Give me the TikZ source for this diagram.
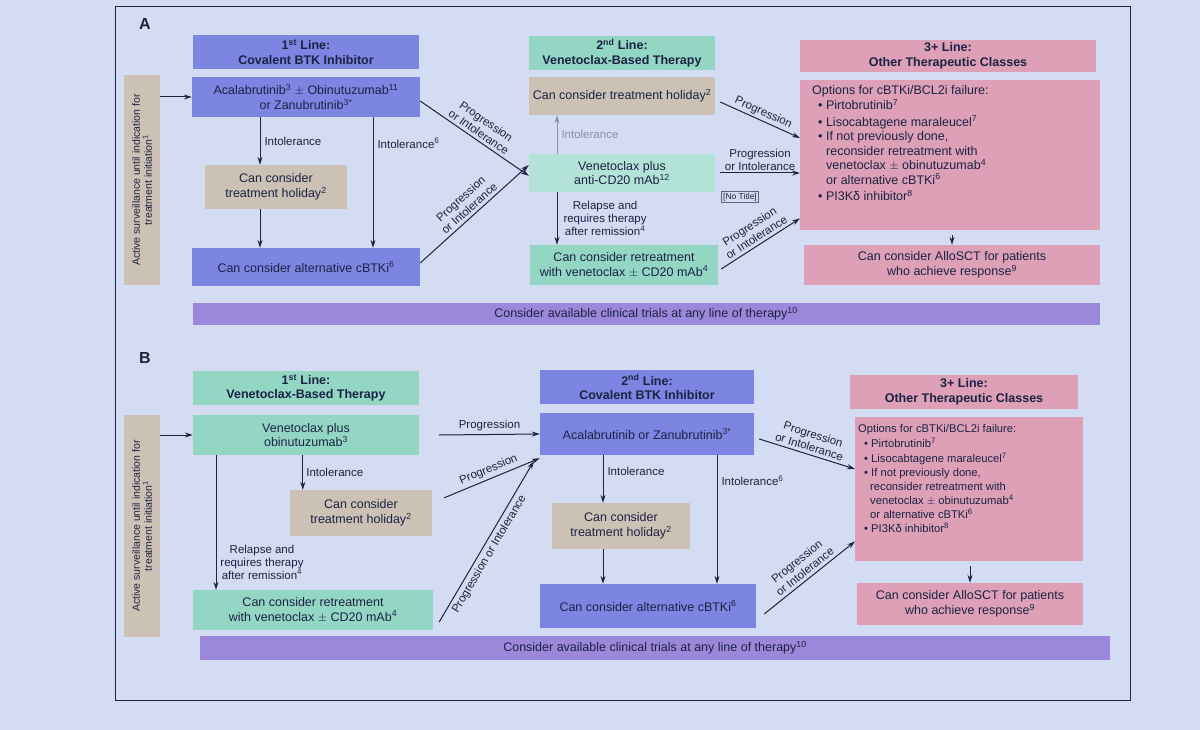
\documentclass[tikz,border=0pt]{standalone}
\usepackage{fontspec}
\setmainfont{Liberation Sans}
\usetikzlibrary{arrows.meta}
\definecolor{bg}{HTML}{D3DCF2}
\definecolor{cblue}{HTML}{7C86E2}
\definecolor{cteal}{HTML}{93D6C4}
\definecolor{ctan}{HTML}{CBC1B4}
\definecolor{cpink}{HTML}{DDA0B6}
\definecolor{cpurp}{HTML}{9C88DA}
\definecolor{ink}{HTML}{1C2244}
\newcommand{\sps}[1]{\textsuperscript{#1}}
\begin{document}
\begin{tikzpicture}[x=1pt,y=-1pt,
  font=\fontsize{12.5}{14.5}\selectfont, text=ink,
  box/.style={draw=none,align=center,inner sep=2pt},
  hd/.style={box,font=\fontsize{12.5}{14.5}\selectfont\bfseries},
  arr/.style={-{Stealth[length=8pt,width=5pt]},draw=ink,line width=1pt},
  lab/.style={font=\fontsize{11.5}{13}\selectfont,align=center,inner sep=1pt}]
\useasboundingbox (0,0) rectangle (1200,730);
\fill[bg] (0,0) rectangle (1200,730);
\draw[ink,line width=0.8pt] (115,6) rectangle (1130,700);
%% ---------- Panel A
\node[font=\fontsize{16}{18}\selectfont\bfseries] (LA) at (145,24) {A};
\node[box,fill=ctan,minimum width=36,minimum height=210] (sA) at (142,180) {};
\node[rotate=90,align=center,font=\fontsize{10.5}{12}\selectfont] (sAt) at (sA) {Active surveillance until indication for\\treatment initiation\sps{1}};
\node[hd,fill=cblue,minimum width=226,minimum height=34] (h1A) at (306,52) {1\sps{st} Line:\\Covalent BTK Inhibitor};
\node[box,fill=cblue,minimum width=228,minimum height=40] (a1) at (306,97) {Acalabrutinib\sps{3} $\pm$ Obinutuzumab\sps{11}\\or Zanubrutinib\sps{3*}};
\node[box,fill=ctan,minimum width=142,minimum height=44] (hA) at (276,187) {Can consider\\treatment holiday\sps{2}};
\node[box,fill=cblue,minimum width=228,minimum height=38] (cA) at (306,267) {Can consider alternative cBTKi\sps{6}};
\node[hd,fill=cteal,minimum width=186,minimum height=34] (h2A) at (622,53) {2\sps{nd} Line:\\Venetoclax-Based Therapy};
\node[box,fill=ctan,minimum width=186,minimum height=38] (hA2) at (622,96) {Can consider treatment holiday\sps{2}};
\node[box,fill=cteal!70,minimum width=186,minimum height=38] (vA) at (622,173) {Venetoclax plus\\anti-CD20 mAb\sps{12}};
\node[draw=ink!70,inner sep=1.5pt,font=\fontsize{8.5}{10}\selectfont] (nt) at (740,197) {[No Title]};
\node[box,fill=cteal,minimum width=188,minimum height=40] (rA) at (624,265) {Can consider retreatment\\with venetoclax $\pm$ CD20 mAb\sps{4}};
\node[hd,fill=cpink,minimum width=296,minimum height=32] (h3A) at (948,56) {3+ Line:\\Other Therapeutic Classes};
\node[box,fill=cpink,minimum width=300,minimum height=150,anchor=north west] (oA) at (800,80) {};
\node[align=left,anchor=north west,inner sep=0pt] (oAt) at (812,85) {Options for cBTKi/BCL2i failure:\\[1pt]
\hspace*{6pt}• Pirtobrutinib\sps{7}\\[2pt]
\hspace*{6pt}• Lisocabtagene maraleucel\sps{7}\\
\hspace*{6pt}• If not previously done,\\
\hspace*{14pt}reconsider retreatment with\\
\hspace*{14pt}venetoclax $\pm$ obinutuzumab\sps{4}\\
\hspace*{14pt}or alternative cBTKi\sps{6}\\[2pt]
\hspace*{6pt}• PI3Kδ inhibitor\sps{8}};
\node[box,fill=cpink,minimum width=296,minimum height=40] (alA) at (952,265) {Can consider AlloSCT for patients\\who achieve response\sps{9}};
\node[box,fill=cpurp,minimum width=907,minimum height=22] (tA) at (646,314) {Consider available clinical trials at any line of therapy\sps{10}};
% arrows A
\draw[arr] (sA.east|-a1) -- (a1.west);
\draw[arr] ([xshift=-46]a1.south) -- node[lab,right=3pt]{Intolerance} ([xshift=-46]a1.south|-hA.north);
\draw[arr] ([xshift=-46]a1.south|-hA.south) -- ([xshift=-46]a1.south|-cA.north);
\draw[arr] ([xshift=67]a1.south) -- node[lab,right=3pt,pos=0.2]{Intolerance\sps{6}} ([xshift=67]a1.south|-cA.north);
\draw[arr] ([yshift=-4]a1.east) -- node[lab,sloped,above=2pt]{Progression\\or Intolerance} ([yshift=-22]vA.north west);
\draw[arr] ([yshift=4]cA.east) -- node[lab,sloped,above=2pt]{Progression\\or Intolerance} ([yshift=8]vA.west);
\draw[arr,draw=ink!50] ([xshift=-65]vA.north) -- node[lab,right=3pt,text=ink!50]{Intolerance} ([xshift=-65]vA.north|-hA2.south);
\draw[arr] ([xshift=-65]vA.south) -- node[lab,right=5pt]{Relapse and\\requires therapy\\after remission\sps{4}} ([xshift=-65]vA.south|-rA.north);
\draw[arr] ([xshift=5,yshift=-6]hA2.east) -- node[lab,sloped,above=1pt]{Progression} ([yshift=-58]oA.north west);
\draw[arr] ([xshift=5]vA.east) -- node[lab,above=1pt]{Progression\\or Intolerance} (vA.east-|oA.west);
\draw[arr] ([xshift=3,yshift=-4]rA.east) -- node[lab,sloped,above=2pt]{Progression\\or Intolerance} ([yshift=12]oA.south west);
\draw[arr] (oA.south-|alA.north) ++(0,5) -- (alA.north);
%% ---------- Panel B
\node[font=\fontsize{16}{18}\selectfont\bfseries] (LB) at (145,358) {B};
\node[box,fill=ctan,minimum width=36,minimum height=222] (sB) at (142,526) {};
\node[rotate=90,align=center,font=\fontsize{10.5}{12}\selectfont] (sBt) at (sB) {Active surveillance until indication for\\treatment initiation\sps{1}};
\node[hd,fill=cteal,minimum width=226,minimum height=34] (h1B) at (306,388) {1\sps{st} Line:\\Venetoclax-Based Therapy};
\node[box,fill=cteal,minimum width=226,minimum height=40] (vB) at (306,435) {Venetoclax plus\\obinutuzumab\sps{3}};
\node[box,fill=ctan,minimum width=142,minimum height=46] (hB) at (361,513) {Can consider\\treatment holiday\sps{2}};
\node[box,fill=cteal,minimum width=240,minimum height=40] (rB) at (313,610) {Can consider retreatment\\with venetoclax $\pm$ CD20 mAb\sps{4}};
\node[hd,fill=cblue,minimum width=214,minimum height=34] (h2B) at (647,387) {2\sps{nd} Line:\\Covalent BTK Inhibitor};
\node[box,fill=cblue,minimum width=214,minimum height=42] (aB) at (647,434) {Acalabrutinib or Zanubrutinib\sps{3*}};
\node[box,fill=ctan,minimum width=138,minimum height=46] (hB2) at (621,526) {Can consider\\treatment holiday\sps{2}};
\node[box,fill=cblue,minimum width=216,minimum height=44] (cB) at (648,606) {Can consider alternative cBTKi\sps{6}};
\node[hd,fill=cpink,minimum width=228,minimum height=34] (h3B) at (964,392) {3+ Line:\\Other Therapeutic Classes};
\node[box,fill=cpink,minimum width=228,minimum height=144,anchor=north west] (oB) at (855,417) {};
\node[align=left,anchor=north west,inner sep=0pt,font=\fontsize{11.2}{14}\selectfont] (oBt) at (858,424) {Options for cBTKi/BCL2i failure:\\[1pt]
\hspace*{6pt}• Pirtobrutinib\sps{7}\\[1pt]
\hspace*{6pt}• Lisocabtagene maraleucel\sps{7}\\
\hspace*{6pt}• If not previously done,\\
\hspace*{12pt}reconsider retreatment with\\
\hspace*{12pt}venetoclax $\pm$ obinutuzumab\sps{4}\\
\hspace*{12pt}or alternative cBTKi\sps{6}\\
\hspace*{6pt}• PI3Kδ inhibitor\sps{8}};
\node[box,fill=cpink,minimum width=226,minimum height=42] (alB) at (970,604) {Can consider AlloSCT for patients\\who achieve response\sps{9}};
\node[box,fill=cpurp,minimum width=910,minimum height=24] (tB) at (655,648) {Consider available clinical trials at any line of therapy\sps{10}};
% arrows B
\draw[arr] (sB.east|-vB) -- (vB.west);
\draw[arr] ([xshift=-2]vB.south-|hB.west) ++(15,0) coordinate (b1) -- node[lab,right=2pt]{Intolerance} (b1|-hB.north);
\draw[arr] ([xshift=-90]vB.south) -- ([xshift=-90]vB.south|-rB.north);
\node[lab] (rel) at (262,562) {Relapse and\\requires therapy\\after remission\sps{4}};
\draw[arr] ([xshift=20]vB.east) -- node[lab,above=2pt]{Progression} (aB.west);
\draw[arr] ([xshift=12,yshift=-8]hB.north east) -- node[lab,sloped,above=2pt]{Progression} ([yshift=-3]aB.south west);
\draw[arr] ([xshift=6,yshift=-12]rB.east) -- node[lab,sloped,below=2pt,pos=0.45]{Progression or Intolerance} ([xshift=-6,yshift=-6]aB.south west);
\draw[arr] ([xshift=-44]aB.south) -- node[lab,right=3pt,pos=0.35]{Intolerance} ([xshift=-44]aB.south|-hB2.north);
\draw[arr] ([xshift=-44]aB.south|-hB2.south) -- ([xshift=-44]aB.south|-cB.north);
\draw[arr] ([xshift=70]aB.south) -- node[lab,right=3pt,pos=0.2]{Intolerance\sps{6}} ([xshift=70]aB.south|-cB.north);
\draw[arr] ([xshift=5,yshift=-5]aB.east) -- node[lab,sloped,above=2pt]{Progression\\or Intolerance} ([yshift=-52]oB.north west);
\draw[arr] ([xshift=8,yshift=-8]cB.east) -- node[lab,sloped,above=2pt]{Progression\\or Intolerance} ([yshift=20]oB.south west);
\draw[arr] (oB.south-|alB.north) ++(0,5) -- (alB.north);
\end{tikzpicture}
\end{document}
